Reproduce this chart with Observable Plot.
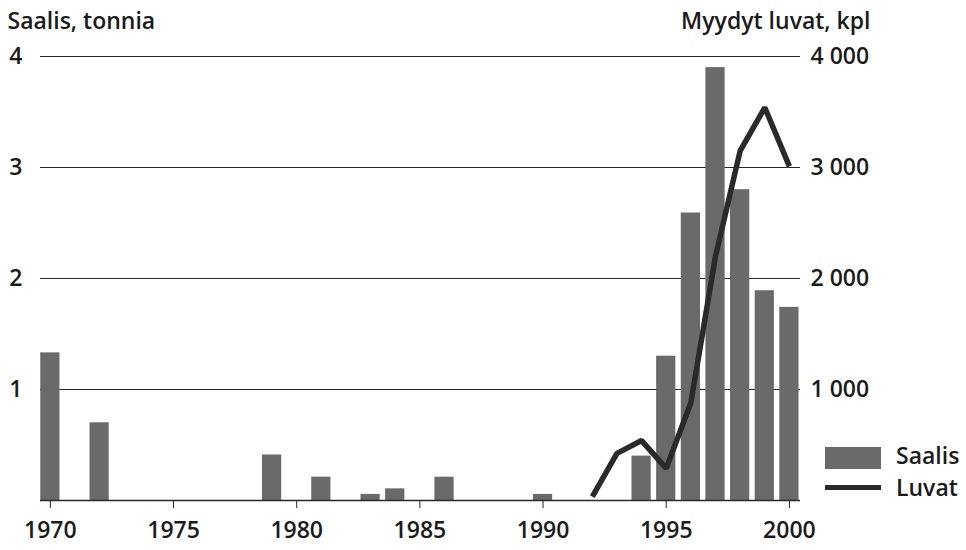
<!DOCTYPE html>
<html>
<head>
<meta charset="utf-8">
<script src="https://cdn.jsdelivr.net/npm/d3@7"></script>
<script src="https://cdn.jsdelivr.net/npm/@observablehq/plot@0.6"></script>
<style>
  html, body { margin: 0; padding: 0; background: #fff; }
  #wrap { position: relative; width: 966px; height: 550px; font-family: "Open Sans", sans-serif; color: #1b1b1b; }
  .leg { position: absolute; font-size: 23px; font-weight: 600; line-height: 1; }
</style>
</head>
<body>
<div id="wrap">
  <div id="chart"></div>
  <div class="leg" style="left:825px; top:447px; width:56px; height:22px; background:#6a6a6a;"></div>
  <div class="leg" style="left:896px; top:444px;">Saalis</div>
  <div class="leg" style="left:825px; top:485px; width:56px; height:5px; background:#2a2a2a;"></div>
  <div class="leg" style="left:896px; top:476px;">Luvat</div>
</div>
<script>
// Saalis (catch, tonnes) – bars, left axis
const saalisYears = [1970, 1972, 1979, 1981, 1983, 1984, 1986, 1990, 1994, 1995, 1996, 1997, 1998, 1999, 2000];
const saalisValues = [1.33, 0.70, 0.41, 0.21, 0.055, 0.105, 0.21, 0.055, 0.40, 1.30, 2.59, 3.90, 2.80, 1.89, 1.74];

// Myydyt luvat (permits sold, pcs) – line, right axis
const luvatYears = [1992, 1993, 1994, 1995, 1996, 1997, 1998, 1999, 2000];
const luvatValues = [35, 425, 540, 290, 880, 2200, 3150, 3540, 3010];

const xTicks = [1970, 1975, 1980, 1985, 1990, 1995, 2000];
const leftTicks = [1, 2, 3, 4];
const rightTicks = [1000, 2000, 3000, 4000];

const titleLeft = "Saalis, tonnia";
const titleRight = "Myydyt luvat, kpl";

const saalis = saalisYears.map((year, i) => ({year, value: saalisValues[i]}));
const luvat = luvatYears.map((year, i) => ({year, value: luvatValues[i]}));

const fmtThousands = n => d3.format(",")(n).replace(/,/g, "\u00a0");

const chart = Plot.plot({
  width: 966,
  height: 550,
  marginLeft: 40,
  marginRight: 166,
  marginTop: 56,
  marginBottom: 50,
  style: {fontFamily: "Open Sans, sans-serif", fontSize: "23px", fontWeight: 600, color: "#1b1b1b", background: "transparent"},
  x: {domain: [1969.6, 2000.45]},
  y: {domain: [0, 4]},
  marks: [
    Plot.ruleY(leftTicks, {stroke: "#2a2a2a", strokeWidth: 1.2}),
    Plot.rectY(saalis, {x1: d => d.year - 0.39, x2: d => d.year + 0.39, y: "value", fill: "#6a6a6a"}),
    Plot.ruleY([0], {stroke: "#2a2a2a", strokeWidth: 1.5}),
    Plot.line(luvat, {x: "year", y: d => d.value / 1000, stroke: "#2a2a2a", strokeWidth: 5.5, strokeLinejoin: "miter", strokeLinecap: "butt"}),
    Plot.axisX({ticks: xTicks, tickFormat: d => String(d), tickSize: 8, tickPadding: 13, stroke: "#2a2a2a", label: null}),
    Plot.axisY({anchor: "left", ticks: leftTicks, tickFormat: d => String(d), tickSize: 0, tickPadding: 18, label: null}),
    Plot.axisY({anchor: "right", ticks: rightTicks.map(v => v / 1000), tickFormat: (d, i) => fmtThousands(rightTicks[i]), tickSize: 0, tickPadding: 10, label: null}),
    Plot.text([titleLeft], {frameAnchor: "top-left", text: d => d, textAnchor: "start", lineAnchor: "bottom", dx: -33, dy: -28, fontSize: 23, fontWeight: 600, fill: "#1b1b1b"}),
    Plot.text([titleRight], {frameAnchor: "top-right", text: d => d, textAnchor: "end", lineAnchor: "bottom", dx: 70, dy: -28, fontSize: 23, fontWeight: 600, fill: "#1b1b1b"})
  ]
});
document.getElementById("chart").appendChild(chart);
</script>
</body>
</html>
